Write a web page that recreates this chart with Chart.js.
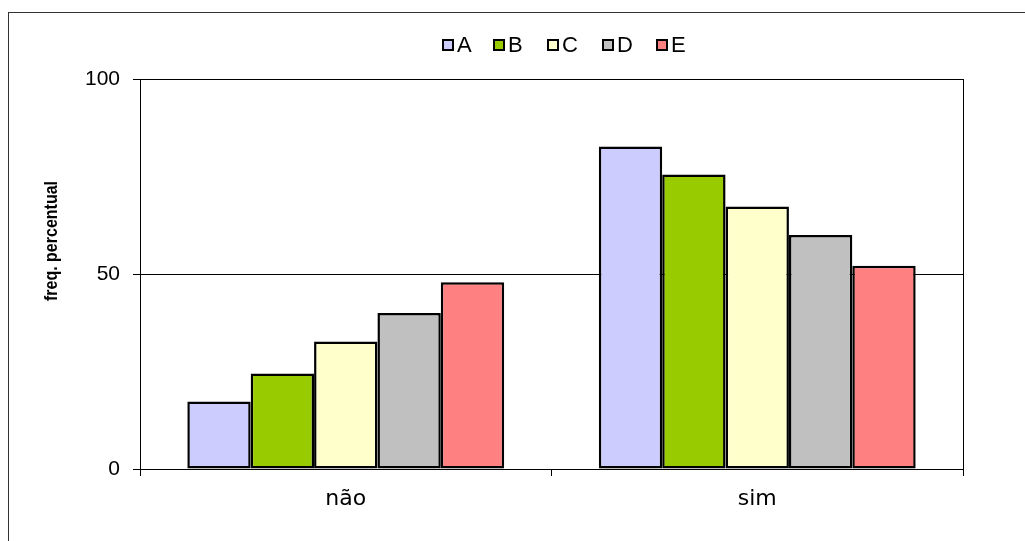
<!DOCTYPE html>
<html lang="pt">
<head>
  <meta charset="UTF-8" />
  <title>freq. percentual</title>
  <script src="https://cdn.jsdelivr.net/npm/chart.js"></script>
  <style>
    body { margin: 0; background: #fff; }
    canvas { display: block; }
  </style>
</head>
<body>
  <canvas id="barChart" width="1025" height="541"></canvas>

  <script>
    const categories = ['não', 'sim'];
    const seriesNames = ['A', 'B', 'C', 'D', 'E'];
    const valuesA = [17.3, 82.7];
    const valuesB = [24.5, 75.5];
    const valuesC = [32.7, 67.3];
    const valuesD = [40.0, 60.0];
    const valuesE = [47.9, 52.1];
    const yTicks = [0, 50, 100];
    const yTitle = 'freq. percentual';

    const colors = ['#CCCCFF', '#99CC00', '#FFFFCC', '#C0C0C0', '#FF8080'];
    const allValues = [valuesA, valuesB, valuesC, valuesD, valuesE];

    // frame, plot border, y title and legend
    const decor = {
      id: 'decor',
      beforeDraw(chart) {
        const ctx = chart.ctx;
        ctx.save();
        ctx.fillStyle = '#fff';
        ctx.fillRect(0, 0, chart.width, chart.height);
        ctx.strokeStyle = '#333';
        ctx.lineWidth = 1;
        ctx.strokeRect(8.5, 12.5, 1100, 700);
        ctx.restore();
      },
      afterDraw(chart) {
        const ctx = chart.ctx;
        const a = chart.chartArea;
        ctx.save();
        ctx.strokeStyle = '#000';
        ctx.lineWidth = 1;
        ctx.beginPath();
        ctx.moveTo(Math.round(a.right) + 0.5, a.top);
        ctx.lineTo(Math.round(a.right) + 0.5, a.bottom);
        ctx.stroke();

        // y title (picture is a bit wider than tall)
        ctx.translate(52, 241);
        ctx.scale(1.2, 1);
        ctx.rotate(-Math.PI / 2);
        ctx.font = 'bold 16px "Liberation Sans", Arial, sans-serif';
        ctx.fillStyle = '#000';
        ctx.textAlign = 'center';
        ctx.textBaseline = 'middle';
        ctx.fillText(yTitle, 0, 0);
        ctx.restore();

        // legend
        ctx.save();
        ctx.font = '22px "Liberation Sans", Arial, sans-serif';
        ctx.textBaseline = 'middle';
        const boxXs = [443, 494, 548, 603, 657];
        chart.data.datasets.forEach((ds, i) => {
          const x = boxXs[i];
          ctx.fillStyle = ds.backgroundColor;
          ctx.fillRect(x, 40, 10, 10);
          ctx.strokeStyle = '#000';
          ctx.lineWidth = 2;
          ctx.strokeRect(x, 40, 10, 10);
          ctx.fillStyle = '#000';
          ctx.fillText(ds.label, x + 14, 46);
        });
        ctx.restore();
      }
    };

    const ctx = document.getElementById('barChart').getContext('2d');
    new Chart(ctx, {
      type: 'bar',
      data: {
        labels: categories,
        datasets: seriesNames.map((name, i) => ({
          label: name,
          data: allValues[i],
          backgroundColor: colors[i],
          borderColor: '#000',
          borderWidth: 2.5,
          borderSkipped: false,
          categoryPercentage: 0.77,
          barPercentage: 1.0
        }))
      },
      options: {
        responsive: false,
        animation: false,
        layout: { padding: { top: 79, right: 62, left: 0, bottom: 0 } },
        plugins: {
          legend: { display: false },
          tooltip: { enabled: false }
        },
        scales: {
          x: {
            afterFit(scale) { scale.height = 72; },
            grid: {
              offset: true,
              drawOnChartArea: false,
              color: '#000',
              tickLength: 7
            },
            border: { color: '#000', width: 1 },
            ticks: {
              color: '#000',
              padding: 10,
              font: { family: '"DejaVu Sans", sans-serif', size: 22 }
            }
          },
          y: {
            min: 0,
            max: 100,
            afterFit(scale) { scale.width = 140; },
            afterBuildTicks(scale) { scale.ticks = yTicks.map(v => ({ value: v })); },
            grid: {
              color: '#000',
              tickLength: 7
            },
            border: { color: '#000', width: 1 },
            ticks: {
              color: '#000',
              padding: 13,
              font: { family: '"Liberation Sans", Arial, sans-serif', size: 21 }
            }
          }
        }
      },
      plugins: [decor]
    });
  </script>
</body>
</html>
